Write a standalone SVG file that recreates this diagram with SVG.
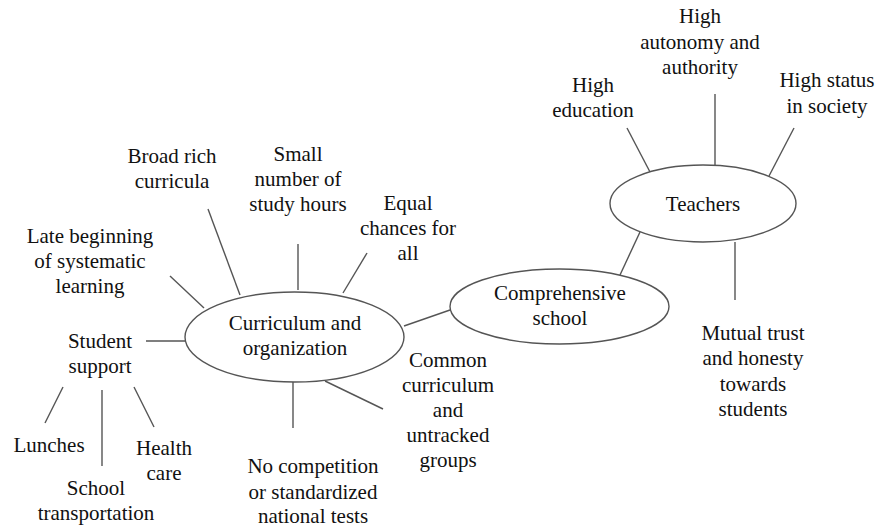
<svg xmlns="http://www.w3.org/2000/svg" width="877" height="528" viewBox="0 0 877 528" font-family="Liberation Serif, DejaVu Serif, serif">
<style>
text{font-size:21px;fill:#111;text-anchor:middle}
.n ellipse{fill:#fff;stroke:#555;stroke-width:1.4}
#connectors line{stroke:#555;stroke-width:1.4}
</style>
<rect width="877" height="528" fill="#fff"/>
<g id="connectors">
<line x1="404" y1="326" x2="450" y2="310"/>
<line x1="640" y1="232" x2="620" y2="275"/>
<line x1="627" y1="128" x2="650" y2="172"/>
<line x1="715" y1="94" x2="715" y2="166"/>
<line x1="794" y1="128" x2="769" y2="176"/>
<line x1="735" y1="242" x2="735" y2="300"/>
<line x1="208" y1="209" x2="240" y2="295"/>
<line x1="298" y1="244" x2="298" y2="290"/>
<line x1="367" y1="253" x2="343" y2="293"/>
<line x1="170" y1="276" x2="204" y2="308"/>
<line x1="146" y1="341" x2="185" y2="341"/>
<line x1="63" y1="387" x2="45" y2="423"/>
<line x1="102" y1="390" x2="102" y2="466"/>
<line x1="134" y1="387" x2="154" y2="427"/>
<line x1="293" y1="382" x2="293" y2="428"/>
<line x1="325" y1="381" x2="383" y2="409"/>
</g>
<g id="curriculum" class="n">
<ellipse cx="294.5" cy="337" rx="109.5" ry="45"/>
<text x="295" y="330">Curriculum and</text>
<text x="295" y="355">organization</text>
</g>
<g id="comprehensive" class="n">
<ellipse cx="559.5" cy="306.5" rx="109.5" ry="37.5"/>
<text x="560" y="300">Comprehensive</text>
<text x="560" y="325">school</text>
</g>
<g id="teachers" class="n">
<ellipse cx="703" cy="203.5" rx="93" ry="38.5"/>
<text x="703" y="211">Teachers</text>
</g>
<g id="high-autonomy">
<text x="700" y="23">High</text>
<text x="700" y="49">autonomy and</text>
<text x="700" y="74">authority</text>
</g>
<g id="high-education">
<text x="593" y="92">High</text>
<text x="593" y="117">education</text>
</g>
<g id="high-status">
<text x="827" y="87">High status</text>
<text x="827" y="113">in society</text>
</g>
<g id="mutual-trust">
<text x="753" y="340">Mutual trust</text>
<text x="753" y="365">and honesty</text>
<text x="753" y="391">towards</text>
<text x="753" y="416">students</text>
</g>
<g id="broad-rich">
<text x="172" y="163">Broad rich</text>
<text x="172" y="188">curricula</text>
</g>
<g id="small-number">
<text x="298" y="161">Small</text>
<text x="298" y="186">number of</text>
<text x="298" y="211">study hours</text>
</g>
<g id="equal-chances">
<text x="408" y="210">Equal</text>
<text x="408" y="235">chances for</text>
<text x="408" y="260">all</text>
</g>
<g id="late-beginning">
<text x="90" y="243">Late beginning</text>
<text x="90" y="268">of systematic</text>
<text x="90" y="293">learning</text>
</g>
<g id="student-support">
<text x="100" y="348">Student</text>
<text x="100" y="373">support</text>
</g>
<g id="lunches">
<text x="49" y="452">Lunches</text>
</g>
<g id="health-care">
<text x="164" y="455">Health</text>
<text x="164" y="480">care</text>
</g>
<g id="school-transportation">
<text x="96" y="495">School</text>
<text x="96" y="520">transportation</text>
</g>
<g id="no-competition">
<text x="313" y="473">No competition</text>
<text x="313" y="499">or standardized</text>
<text x="313" y="523">national tests</text>
</g>
<g id="common-curriculum">
<text x="448" y="367">Common</text>
<text x="448" y="392">curriculum</text>
<text x="448" y="417">and</text>
<text x="448" y="442">untracked</text>
<text x="448" y="467">groups</text>
</g>
</svg>
